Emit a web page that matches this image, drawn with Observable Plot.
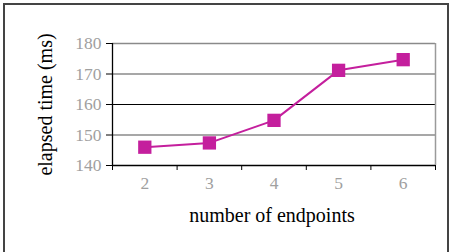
<!DOCTYPE html>
<html>
<head>
<meta charset="utf-8">
<script src="https://cdn.jsdelivr.net/npm/d3@7"></script>
<script src="https://cdn.jsdelivr.net/npm/@observablehq/plot@0.6"></script>
<style>
  html, body { margin: 0; padding: 0; background: #fff; }
  #wrap { position: relative; width: 456px; height: 252px; overflow: hidden; }
  #border { position: absolute; left: 3px; top: 3px; width: 442px; height: 262px;
            border: 2px solid #444; border-bottom: none; }
  #chart { position: absolute; left: 0; top: 0; }
  #chart svg { background: transparent; }
  #chart svg text { font-family: 'Liberation Serif', 'Times New Roman', serif !important; }
</style>
</head>
<body>
<div id="wrap"><div id="border"></div><div id="chart"></div></div>
<script>
const endpoints = [2, 3, 4, 5, 6];
const elapsed = [146.0, 147.4, 154.8, 171.2, 174.7];
const yTicks = [140, 150, 160, 170, 180];
const xLabel = "number of endpoints";
const yLabel = "elapsed time (ms)";

const data = endpoints.map((e, i) => ({n: e, t: elapsed[i]}));
const xBounds = [endpoints[0] - 0.5, ...endpoints.map(e => e + 0.5)];
const grayGrid = yTicks.filter(v => v !== 160 && v !== 140);

const font = "'Liberation Serif', 'Times New Roman', serif";
const color = "#c41f9d";

const chart = Plot.plot({
  width: 456,
  height: 252,
  marginLeft: 112,
  marginRight: 21,
  marginTop: 43,
  marginBottom: 87,
  style: {fontFamily: font, fontSize: "17px", background: "transparent"},
  x: {type: "linear", domain: [xBounds[0], xBounds[xBounds.length - 1]]},
  y: {domain: [140, 180]},
  marks: [
    Plot.ruleY(grayGrid, {stroke: "#8a8a8a", strokeWidth: 1.5}),
    Plot.ruleY([160], {stroke: "#000", strokeWidth: 1}),
    Plot.ruleX([xBounds[xBounds.length - 1]], {stroke: "#9a9a9a", strokeWidth: 1.5}),
    Plot.ruleX([xBounds[0]], {stroke: "#000", strokeWidth: 1.3}),
    Plot.ruleY([140], {stroke: "#000", strokeWidth: 1.3}),
    Plot.axisY({ticks: yTicks, tickSize: 6, tickPadding: 5, stroke: "#000",
      fill: "#a0a0a0", fontSize: 17.5, fontFamily: font, label: null, tickFormat: d => String(d)}),
    Plot.axisX({ticks: xBounds, tickSize: 5, stroke: "#000", tickFormat: () => "", label: null}),
    Plot.axisX({ticks: endpoints, tickSize: 0, tickPadding: 11, fill: "#a0a0a0",
      fontSize: 17.5, fontFamily: font, label: null, tickFormat: d => String(d)}),
    Plot.text([yLabel], {frameAnchor: "left", textAnchor: "middle", lineAnchor: "middle",
      rotate: -90, dx: -67, fill: "#000", fontSize: 20, fontFamily: font}),
    Plot.text([xLabel], {frameAnchor: "bottom", textAnchor: "middle", lineAnchor: "middle",
      dy: 50, dx: -2, fill: "#000", fontSize: 20, fontFamily: font}),
    Plot.line(data, {x: "n", y: "t", stroke: color, strokeWidth: 2}),
    Plot.dot(data, {x: "n", y: "t", symbol: "square", r: 7.5, fill: color, stroke: "none"})
  ]
});
document.getElementById("chart").appendChild(chart);
</script>
</body>
</html>
